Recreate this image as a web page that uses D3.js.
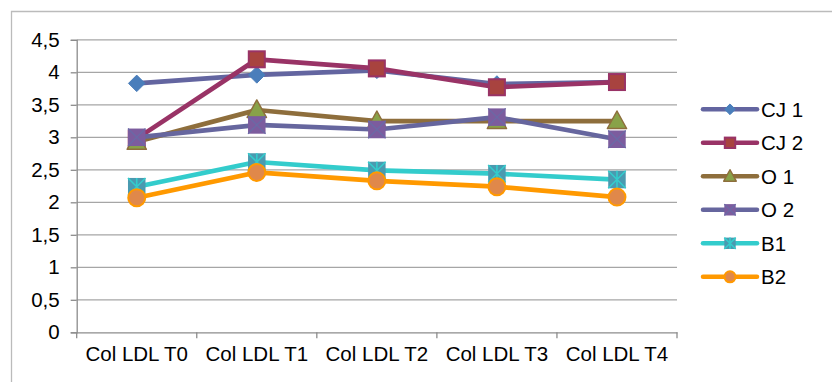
<!DOCTYPE html>
<html><head><meta charset="utf-8">
<script src="https://cdn.jsdelivr.net/npm/d3@7"></script>
<style>body{margin:0;background:#fff;} svg{display:block;font-family:"Liberation Sans",Arial,sans-serif;}</style>
</head><body><svg id="c" width="832" height="382"></svg>
<script>
const categories = ["Col LDL T0","Col LDL T1","Col LDL T2","Col LDL T3","Col LDL T4"];
const seriesNames = ["CJ 1","CJ 2","O 1","O 2","B1","B2"];
const cj1 = [3.83, 3.96, 4.03, 3.82, 3.85];
const cj2 = [2.98, 4.20, 4.06, 3.77, 3.85];
const o1  = [2.93, 3.42, 3.25, 3.25, 3.25];
const o2  = [3.00, 3.19, 3.12, 3.31, 2.97];
const b1  = [2.24, 2.62, 2.49, 2.44, 2.35];
const b2  = [2.07, 2.46, 2.33, 2.24, 2.08];
const yTicks = [0,0.5,1,1.5,2,2.5,3,3.5,4,4.5];
const yTickLabels = ["0","0,5","1","1,5","2","2,5","3","3,5","4","4,5"];

const styles = [
  {line:"#6365A0", fill:"#4A7EBB", stroke:"#4A7EBB", shape:"diamond", size:15},
  {line:"#993366", fill:"#A8433F", stroke:"#993366", shape:"square", size:16},
  {line:"#8E6E3C", fill:"#88A248", stroke:"#8E6E3C", shape:"triangle", size:17.5},
  {line:"#66669E", fill:"#7C5C9E", stroke:"#6A6AA6", shape:"xsquare", size:17.5},
  {line:"#33CCCC", fill:"#4A9AB0", stroke:"#33CCCC", shape:"star", size:17.5},
  {line:"#FF9900", fill:"#E0884A", stroke:"#FF9900", shape:"circle", size:17}
];
const data = [cj1,cj2,o1,o2,b1,b2];

const svg = d3.select("#c");
const L = 76.7, R = 677, T = 39.8, B = 332.3;
const x = d3.scaleBand().domain(categories).range([L,R]).padding(0);
const y = d3.scaleLinear().domain([0,4.5]).range([B,T]);
const fs = 20.5;

// outer border
svg.append("path").attr("d","M11.5,382 L11.5,11.5 L832,11.5").attr("fill","none").attr("stroke","#BBBBBB").attr("stroke-width",1.3);

// gridlines
svg.append("g").selectAll("line").data(yTicks.filter(d=>d>0)).join("line")
  .attr("x1",L).attr("x2",R).attr("y1",d=>y(d)).attr("y2",d=>y(d))
  .attr("stroke","#A6A6A6").attr("stroke-width",1.3);

// y axis
const yAxis = d3.axisLeft(y).tickValues(yTicks).tickFormat((d,i)=>yTickLabels[i]).tickSize(6).tickPadding(11);
const gy = svg.append("g").attr("transform",`translate(${L},0)`).call(yAxis);
gy.select(".domain").attr("stroke","#8C8C8C").attr("stroke-width",1.3);
gy.selectAll(".tick line").attr("stroke","#8C8C8C").attr("stroke-width",1.3);
gy.selectAll("text").attr("font-size",fs).attr("fill","#000").attr("font-family","Liberation Sans, Arial, sans-serif");

// x axis
const xAxis = d3.axisBottom(x).tickSize(0).tickPadding(14);
const gx = svg.append("g").attr("transform",`translate(0,${B})`).call(xAxis);
gx.select(".domain").attr("stroke","#8C8C8C").attr("stroke-width",1.3);
gx.selectAll("text").attr("font-size",fs).attr("fill","#000").attr("font-family","Liberation Sans, Arial, sans-serif");
// category boundary ticks
svg.append("g").selectAll("line").data(d3.range(categories.length+1)).join("line")
  .attr("x1",i=>L+i*x.bandwidth()).attr("x2",i=>L+i*x.bandwidth())
  .attr("y1",B).attr("y2",B+6).attr("stroke","#8C8C8C").attr("stroke-width",1.3);

function drawMarker(g, st, cx, cy, s){
  const h = s/2;
  if(st.shape==="diamond"){
    g.append("path").attr("d",`M${cx},${cy-h*1.1}L${cx+h*1.1},${cy}L${cx},${cy+h*1.1}L${cx-h*1.1},${cy}Z`)
      .attr("fill",st.fill).attr("stroke",st.stroke).attr("stroke-width",1);
  } else if(st.shape==="square"){
    g.append("rect").attr("x",cx-h).attr("y",cy-h).attr("width",s).attr("height",s)
      .attr("fill",st.fill).attr("stroke",st.stroke).attr("stroke-width",2);
  } else if(st.shape==="triangle"){
    g.append("path").attr("d",`M${cx},${cy-h*1.15}L${cx+h*1.1},${cy+h*0.85}L${cx-h*1.1},${cy+h*0.85}Z`)
      .attr("fill",st.fill).attr("stroke",st.stroke).attr("stroke-width",1.5).attr("stroke-linejoin","round");
  } else if(st.shape==="xsquare"){
    g.append("rect").attr("x",cx-h).attr("y",cy-h).attr("width",s).attr("height",s)
      .attr("fill",st.fill);
    g.append("path").attr("d",`M${cx-h},${cy-h}L${cx+h},${cy+h}M${cx+h},${cy-h}L${cx-h},${cy+h}`)
      .attr("stroke",st.stroke).attr("stroke-width",1.3);
  } else if(st.shape==="star"){
    g.append("rect").attr("x",cx-h).attr("y",cy-h).attr("width",s).attr("height",s)
      .attr("fill",st.fill);
    g.append("path").attr("d",`M${cx-h},${cy-h}L${cx+h},${cy+h}M${cx+h},${cy-h}L${cx-h},${cy+h}M${cx},${cy-h}L${cx},${cy+h}`)
      .attr("stroke",st.stroke).attr("stroke-width",1.6);
  } else if(st.shape==="circle"){
    g.append("circle").attr("cx",cx).attr("cy",cy).attr("r",h)
      .attr("fill",st.fill).attr("stroke",st.stroke).attr("stroke-width",2);
  }
}

const line = d3.line().x((d,i)=>x(categories[i])+x.bandwidth()/2).y(d=>y(d));
data.forEach((vals,si)=>{
  const st = styles[si];
  const g = svg.append("g");
  g.append("path").attr("d",line(vals)).attr("fill","none").attr("stroke",st.line)
    .attr("stroke-width",4.7).attr("stroke-linejoin","round").attr("stroke-linecap","round");
  vals.forEach((v,i)=>drawMarker(g, st, x(categories[i])+x.bandwidth()/2, y(v), st.size));
});

// legend
const legY0 = 109.3, legDy = 33.5;
seriesNames.forEach((n,si)=>{
  const st = styles[si];
  const g = svg.append("g");
  const yy = legY0 + si*legDy;
  g.append("line").attr("x1",703).attr("x2",757).attr("y1",yy).attr("y2",yy)
    .attr("stroke",st.line).attr("stroke-width",4.5).attr("stroke-linecap","round");
  drawMarker(g, st, 730, yy, st.size*0.65);
  g.append("text").attr("x",761).attr("y",yy).attr("dy","0.36em").attr("font-size",fs).attr("fill","#000").text(n);
});
</script>
</body></html>
